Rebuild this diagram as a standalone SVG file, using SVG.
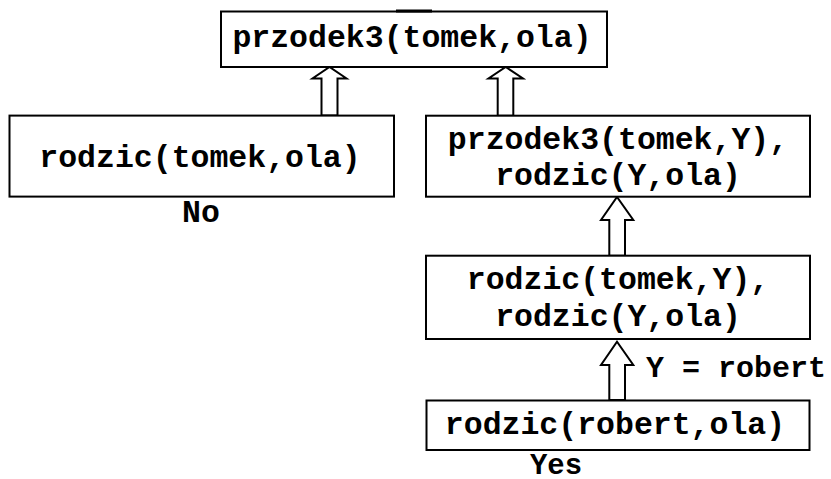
<svg xmlns="http://www.w3.org/2000/svg" width="831" height="479" viewBox="0 0 831 479">
<style>
.box{fill:#fff;stroke:#000;stroke-width:2}
.arr{fill:#fff;stroke:#000;stroke-width:2;stroke-linejoin:miter}
text{font-family:"Liberation Mono","Courier New",monospace;font-weight:bold;font-size:31.5px;fill:#000}
.m{text-anchor:middle}
</style>
<rect width="831" height="479" fill="#fff"/>
<g id="connectors">
<path class="arr" d="M321.5,115.5 V78.5 H312.5 L329.5,67 L346.5,78.5 H337.5 V115.5 Z"/>
<path class="arr" d="M497.7,115.7 V78.5 H488.5 L505.7,67 L523,78.5 H513.3 V115.7 Z"/>
<path class="arr" d="M609.3,255.7 V220 H601 L617,197 L633.3,220 H625 V255.7 Z"/>
<path class="arr" d="M609.3,400 V365 H601 L617,341.7 L633.3,365 H625 V400 Z"/>
</g>
<g id="n-top">
<rect class="box" x="221" y="11.5" width="386" height="55.5"/>
<rect x="396" y="9.5" width="36" height="3" fill="#000"/>
<text class="m" x="412" y="47">przodek3(tomek,ola)</text>
</g>
<g id="n-left">
<rect class="box" x="9.5" y="115.6" width="384.5" height="81"/>
<text class="m" x="200" y="167.3">rodzic(tomek,ola)</text>
<text class="m" x="201" y="222">No</text>
</g>
<g id="n-right1">
<rect class="box" x="426" y="115.7" width="384" height="81"/>
<text class="m" x="618" y="149">przodek3(tomek,Y),</text>
<text class="m" x="618" y="185">rodzic(Y,ola)</text>
</g>
<g id="n-right2">
<rect class="box" x="426" y="255.7" width="384" height="83.3"/>
<text class="m" x="618" y="289">rodzic(tomek,Y),</text>
<text class="m" x="618" y="326">rodzic(Y,ola)</text>
</g>
<g id="n-right3">
<rect class="box" x="426.5" y="400.5" width="383" height="49.5"/>
<text class="m" x="615" y="434">rodzic(robert,ola)</text>
<text class="m" x="556" y="474" style="font-size:29px">Yes</text>
</g>
<g id="label">
<text x="646" y="377" style="font-size:30px">Y = robert</text>
</g>
</svg>
